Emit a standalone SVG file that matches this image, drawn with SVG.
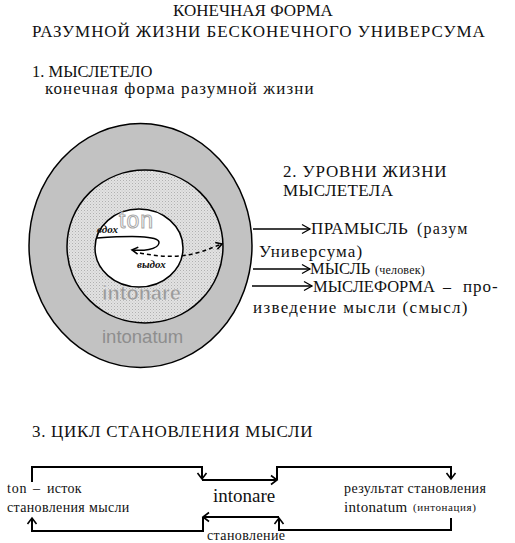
<svg xmlns="http://www.w3.org/2000/svg" width="515" height="543" viewBox="0 0 515 543">
<defs>
<pattern id="dots" width="3" height="3" patternUnits="userSpaceOnUse">
<rect width="3" height="3" fill="#e2e2e2"/>
<rect x="0" y="0" width="1" height="1" fill="#b0b0b0"/>
<rect x="1.5" y="1.5" width="1" height="1" fill="#c4c4c4"/>
</pattern>
<marker id="ah" markerWidth="12" markerHeight="12" refX="9" refY="6" orient="auto" markerUnits="userSpaceOnUse">
<path d="M3,1.5 L9,6 L3,10.5" fill="none" stroke="#000" stroke-width="1.6"/>
</marker>
<marker id="ah2" markerWidth="12" markerHeight="12" refX="10" refY="6" orient="auto" markerUnits="userSpaceOnUse">
<path d="M2,1.5 L10,6 L2,10.5" fill="none" stroke="#000" stroke-width="1.3"/>
</marker>
<marker id="ahs" markerWidth="10" markerHeight="10" refX="8" refY="5" orient="auto" markerUnits="userSpaceOnUse">
<path d="M2,1.5 L8,5 L2,8.5" fill="none" stroke="#000" stroke-width="1.6"/>
</marker>
</defs>
<rect width="515" height="543" fill="#fff"/>

<g id="title">
<text font-family="Liberation Serif" font-size="17" fill="#111" x="253" y="16" text-anchor="middle">КОНЕЧНАЯ ФОРМА</text>
<text font-family="Liberation Serif" font-size="17" fill="#111" x="32" y="37" letter-spacing="0.95">РАЗУМНОЙ ЖИЗНИ БЕСКОНЕЧНОГО УНИВЕРСУМА</text>
</g>

<g id="section1">
<text font-family="Liberation Serif" font-size="16.5" fill="#111" x="32" y="77">1. МЫСЛЕТЕЛО</text>
<text font-family="Liberation Serif" font-size="17" fill="#111" x="45" y="94" letter-spacing="1.1">конечная форма разумной жизни</text>
</g>

<g id="mysletelo">
<ellipse id="outer" cx="140.5" cy="245.5" rx="111.5" ry="122" fill="#c2c2c2" stroke="#000" stroke-width="1.5"/>
<ellipse id="middle" cx="145" cy="246.5" rx="78" ry="76.5" fill="url(#dots)" stroke="#000" stroke-width="1.5"/>
<ellipse id="inner" cx="139" cy="248" rx="44" ry="39" fill="#fff" stroke="#000" stroke-width="1.5"/>
<text font-family="Liberation Sans" x="119" y="228" font-size="23" fill="#fff" stroke="#a8a8a8" stroke-width="1" letter-spacing="1">ton</text>
<text font-family="Liberation Sans" x="102" y="300" font-size="20" font-weight="bold" fill="#9a9a9a" stroke="#eee" stroke-width="0.4">intonare</text>
<text font-family="Liberation Sans" x="102" y="343" font-size="18.5" fill="#8e8e8e">intonatum</text>
<text font-family="Liberation Serif" fill="#111" x="97" y="233" font-size="11" font-style="italic" font-weight="bold">вдох</text>
<text font-family="Liberation Serif" fill="#111" x="137" y="268" font-size="11" font-style="italic" font-weight="bold">выдох</text>
</g>

<g id="section2">
<text font-family="Liberation Serif" font-size="17" fill="#111" x="283" y="177" letter-spacing="0.85">2. УРОВНИ ЖИЗНИ</text>
<text font-family="Liberation Serif" font-size="17" fill="#111" x="283" y="196" letter-spacing="0.35">МЫСЛЕТЕЛА</text>
</g>

<g id="level1">
<text font-family="Liberation Serif" font-size="17" fill="#111" x="311" y="234" letter-spacing="0.4">ПРАМЫСЛЬ</text>
<text font-family="Liberation Serif" font-size="16" fill="#111" x="417" y="234" letter-spacing="1.2">(разум</text>
<text font-family="Liberation Serif" font-size="17" fill="#111" x="259" y="257" letter-spacing="1.1">Универсума)</text>
</g>
<g id="level2">
<text font-family="Liberation Serif" font-size="16.5" fill="#111" x="310" y="274">МЫСЛЬ</text>
<text font-family="Liberation Serif" font-size="12" fill="#111" x="375" y="274" letter-spacing="0.2">(человек)</text>
</g>
<g id="level3">
<text font-family="Liberation Serif" font-size="16.5" fill="#111" x="313" y="292">МЫСЛЕФОРМА</text>
<text font-family="Liberation Serif" font-size="16" fill="#111" x="443" y="292">–</text>
<text font-family="Liberation Serif" font-size="17" fill="#111" x="463" y="292" letter-spacing="1">про-</text>
<text font-family="Liberation Serif" font-size="17" fill="#111" x="253" y="313" letter-spacing="1.3">изведение мысли (смысл)</text>
</g>

<g id="section3">
<text font-family="Liberation Serif" font-size="17" fill="#111" x="32" y="437" letter-spacing="0.7">3. ЦИКЛ СТАНОВЛЕНИЯ МЫСЛИ</text>
</g>
<g id="ton">
<text font-family="Liberation Serif" font-size="14" fill="#111" x="7" y="493" letter-spacing="0.8">ton</text>
<text font-family="Liberation Serif" font-size="14" fill="#111" x="33" y="493">–</text>
<text font-family="Liberation Serif" font-size="14" fill="#111" x="47" y="493" letter-spacing="0.3">исток</text>
<text font-family="Liberation Serif" font-size="14" fill="#111" x="7" y="512" letter-spacing="0.35">становления мысли</text>
</g>
<g id="intonare">
<text font-family="Liberation Serif" font-size="19" fill="#111" x="213" y="502">intonare</text>
</g>
<g id="result">
<text font-family="Liberation Serif" font-size="14" fill="#111" x="344" y="493" letter-spacing="0.4">результат становления</text>
<text font-family="Liberation Serif" font-size="15" fill="#111" x="344" y="512" letter-spacing="0.3">intonatum</text>
<text font-family="Liberation Serif" font-size="11" fill="#111" x="413" y="511" letter-spacing="0.6">(интонация)</text>
</g>
<g id="stanovlenie">
<text font-family="Liberation Serif" font-size="14" fill="#111" x="207" y="540" letter-spacing="0.4">становление</text>
</g>

<g id="connectors" fill="none" stroke="#000">
<path d="M97,238 C128,236 160,235 159,243 C158,250 142,251 132,250" stroke-width="1.5" marker-end="url(#ahs)"/>
<path d="M140,253 C160,257 180,258 200,252 C210,249 216,246 222,244" stroke-width="1.5" stroke-dasharray="4,3" marker-end="url(#ahs)"/>
<g stroke-width="1.3">
<line x1="253" y1="229" x2="310" y2="229" marker-end="url(#ah2)"/>
<line x1="253" y1="269" x2="310" y2="269" marker-end="url(#ah2)"/>
<line x1="252" y1="286" x2="312" y2="286" marker-end="url(#ah2)"/>
</g>
<g stroke-width="2">
<path d="M32,482 V467 H202 V479" marker-end="url(#ah)"/>
<path d="M202,480 H277" marker-end="url(#ah)"/>
<path d="M277,480 V467 H451 V479" marker-end="url(#ah)"/>
<path d="M451,518 V530 H279 V518" marker-end="url(#ah)"/>
<path d="M279,517 H203" marker-end="url(#ah)"/>
<path d="M203,517 V531 H32 V518" marker-end="url(#ah)"/>
</g>
</g>
</svg>
